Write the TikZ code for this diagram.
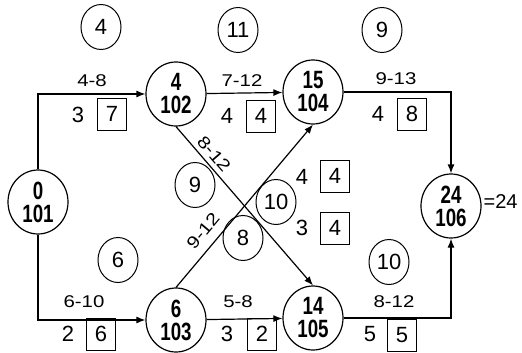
\documentclass[tikz,border=0pt]{standalone}
\usepackage{fontspec}
\setmainfont{Liberation Sans}
\newfontfamily\narrowfont[FakeStretch=0.75]{Liberation Sans}
\newfontfamily\widefont[FakeStretch=1.2]{Liberation Sans}
\usetikzlibrary{shapes.geometric,arrows.meta}

\begin{document}
\begin{tikzpicture}[x=1pt,y=-1pt, line width=1.2pt,
  event/.style={draw, ellipse, minimum width=60pt, minimum height=64pt, inner sep=0pt,
    align=center, font=\narrowfont\bfseries\fontsize{25}{23}\selectfont},
  slack/.style={draw, ellipse, minimum width=40pt, minimum height=45pt, inner sep=0pt,
    line width=1pt, font=\fontsize{22}{24}\selectfont},
  lbl/.style={font=\widefont\fontsize{17}{19}\selectfont, inner sep=1pt},
  num/.style={font=\fontsize{22}{24}\selectfont, inner sep=0pt},
  cost/.style={draw, minimum width=29pt, minimum height=32pt, inner sep=0pt,
    line width=1pt, font=\fontsize{22}{24}\selectfont},
  act/.style={-{Latex[length=9pt,width=7pt]}}]
 \useasboundingbox (0,0) rectangle (522,353);
 % events
 \node[event] (n101) at (38,202) {0\\101};
 \node[event] (n102) at (176,94) {4\\102};
 \node[event] (n103) at (176,320) {6\\103};
 \node[event] (n104) at (313,92) {15\\104};
 \node[event] (n105) at (313,318) {14\\105};
 \node[event] (n106) at (451,206) {24\\106};
 \node[anchor=west, inner sep=1pt, font=\fontsize{20}{22}\selectfont] (total) at (482,202) {=24};
 % activities
 \draw[act] (n101.north) |- (n102.west);
 \draw[act] (n101.south) |- (n103.west);
 \draw[act] (n102) -- (n104);
 \draw[act] (n103) -- (n105);
 \draw[act] (n104.east) -| (n106.north);
 \draw[act] (n105.east) -| (n106.south);
 \draw[act] (n102.south) -- (n105.north);
 \draw[act] (n103.north) -- (n104.south);
 % time ranges
 \node[lbl] (l12) at (92,81) {4-8};
 \node[lbl] (l24) at (242,81) {7-12};
 \node[lbl] (l46) at (396,79) {9-13};
 \node[lbl] (l13) at (84,302) {6-10};
 \node[lbl] (l35) at (238,302) {5-8};
 \node[lbl] (l56) at (394,302) {8-12};
 \node[lbl, rotate=-49] (l25) at (214,154) {8-12};
 \node[lbl, rotate=50] (l34) at (203,231) {9-12};
 % durations and costs
 \node[num] (d12) at (78,115) {3};  \node[cost] (c12) at (112,114) {7};
 \node[num] (d24) at (227,116) {4}; \node[cost] (c24) at (261,116) {4};
 \node[num] (d46) at (378,114) {4}; \node[cost] (c46) at (412,114) {8};
 \node[num] (d13) at (68,334) {2};  \node[cost] (c13) at (101,334) {6};
 \node[num] (d35) at (227,334) {3}; \node[cost] (c35) at (262,334) {2};
 \node[num] (d56) at (370,334) {5}; \node[cost] (c56) at (402,335) {5};
 \node[num] (d34) at (302,177) {4}; \node[cost] (c34) at (335,176) {4};
 \node[num] (d25) at (302,228) {3}; \node[cost] (c25) at (335,228) {4};
 % slack circles
 \node[slack] (s12) at (101,27) {4};
 \node[slack] (s24) at (238,30) {11};
 \node[slack] (s46) at (382,30) {9};
 \node[slack] (s13) at (118,260) {6};
 \node[slack] (s25) at (195,185) {9};
 \node[slack] (s34) at (276,202) {10};
 \node[slack] (s35) at (243,238) {8};
 \node[slack] (s56) at (389,262) {10};
\end{tikzpicture}
\end{document}
